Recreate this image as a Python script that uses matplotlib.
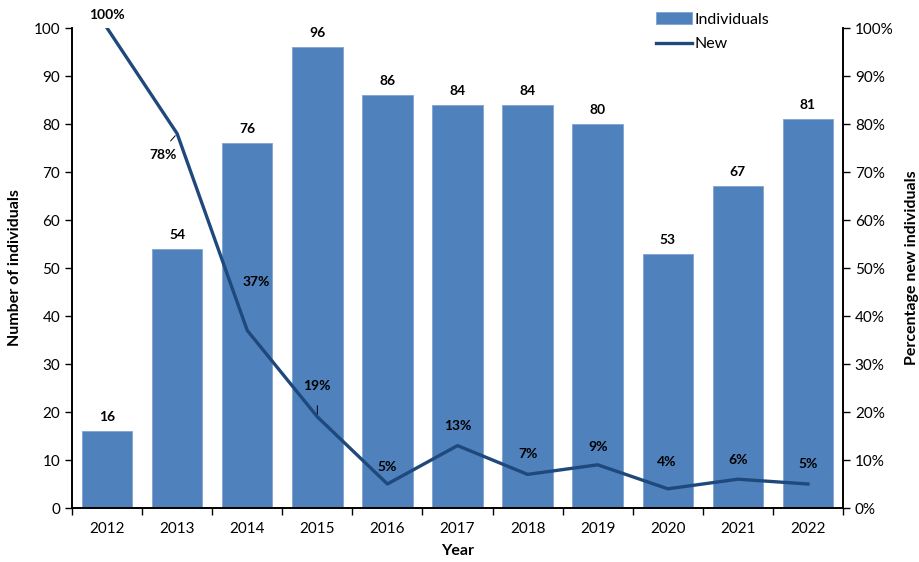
import matplotlib
matplotlib.use('Agg')
import matplotlib.pyplot as plt
import numpy as np

plt.rcParams['font.family'] = ['Lato', 'DejaVu Sans']

years = ['2012', '2013', '2014', '2015', '2016', '2017', '2018', '2019', '2020', '2021', '2022']
individuals = [16, 54, 76, 96, 86, 84, 84, 80, 53, 67, 81]
pct_new = [100, 78, 37, 19, 5, 13, 7, 9, 4, 6, 5]

# label offsets (pixels) for the percentage annotations
pct_offsets = [(0, 13), (-14, -21), (9, 48), (0, 31), (0, 17), (0, 20),
               (0, 20), (0, 18), (-1, 27), (0, 19), (0, 20)]
leaders = [False, True, False, True, False, False, False, False, False, False, False]

bar_col = '#4f81bd'
line_col = '#1f497d'

fig = plt.figure(figsize=(9.2, 5.62), dpi=100)
ax = fig.add_axes([72/920, 54/562, (843-72)/920, (508-28)/562])
ax2 = ax.twinx()

x = np.arange(len(years))
bars = ax.bar(x, individuals, width=0.72, color=bar_col, edgecolor='#7fa3d1',
              linewidth=0.6, label='Individuals', zorder=2)
for xi, v in zip(x, individuals):
    ax.annotate(str(v), (xi, v), xytext=(0, 8), textcoords='offset pixels',
                ha='center', va='bottom', fontsize=10, fontweight='bold')

ln, = ax2.plot(x, pct_new, color=line_col, lw=2.4, label='New', zorder=3)
for xi, p, off, ld in zip(x, pct_new, pct_offsets, leaders):
    ax2.annotate(f'{p}%', (xi, p), xytext=off, textcoords='offset pixels',
                 ha='center', va='center', fontsize=10, fontweight='bold')
    if ld:
        ax2.annotate('', (xi, p), xytext=(off[0] * 0.6, off[1] * 0.45),
                     textcoords='offset pixels',
                     arrowprops=dict(arrowstyle='-', color='black', lw=0.7))

ax.set_xlim(-0.5, len(years) - 0.5)
ax.set_ylim(0, 100)
ax2.set_ylim(0, 100)
ax.set_yticks(range(0, 101, 10))
ax2.set_yticks(range(0, 101, 10))
ax2.set_yticklabels([f'{t}%' for t in range(0, 101, 10)])

ax.set_xticks(x)
ax.set_xticklabels(years)
ax.set_xticks(np.arange(-0.5, len(years), 1), minor=True)
ax.tick_params(axis='x', which='major', length=0, pad=10, labelsize=11)
ax.tick_params(axis='x', which='minor', length=5, width=1, direction='out')
ax.tick_params(axis='y', length=5, width=1, direction='out', labelsize=11)
ax2.tick_params(axis='y', length=5, width=1, direction='out', labelsize=11)

for a in (ax, ax2):
    a.spines['top'].set_visible(False)
    for s in ('left', 'right', 'bottom'):
        a.spines[s].set_linewidth(1.2)

ax.set_xlabel('Year', fontsize=11.5, fontweight='bold', labelpad=6)
ax.set_ylabel('Number of individuals', fontsize=11.5, fontweight='bold', labelpad=8)
ax2.set_ylabel('Percentage new individuals', fontsize=11.5, fontweight='bold', labelpad=8)

fig.legend(handles=[bars, ln], labels=['Individuals', 'New'], loc='upper left',
           bbox_to_anchor=(650/920, 1 - 6/562), frameon=False, fontsize=11.5,
           handlelength=2.2, handletextpad=0.2, labelspacing=0.65, borderaxespad=0)

fig.savefig('out.png', dpi=100)
